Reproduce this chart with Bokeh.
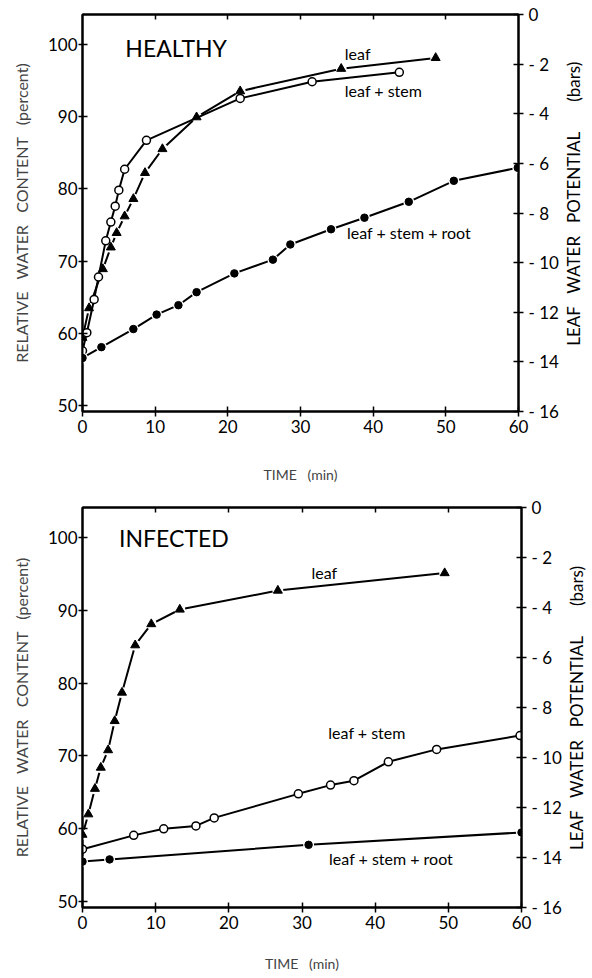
import math
from bokeh.plotting import figure
from bokeh.models import Range1d, LinearAxis, FixedTicker, Label
from bokeh.layouts import column
from bokeh.embed import file_html
from bokeh.resources import INLINE

FONT = "Lato"
NB = "\u00a0"

# ---------------- data (time in min, relative water content in percent) -------------
h_leaf_t = [0, 0.9, 2.8, 3.9, 4.7, 5.8, 7.0, 8.6, 11.0, 15.7, 21.7, 35.6, 48.6]
h_leaf_rwc = [59.4, 63.5, 68.9, 71.9, 73.9, 76.2, 78.6, 82.2, 85.5, 89.9, 93.5, 96.6, 98.1]
h_ls_t = [0, 0.6, 1.6, 2.2, 3.2, 3.9, 4.5, 5.0, 5.8, 8.8, 21.7, 31.6, 43.6]
h_ls_rwc = [57.6, 60.1, 64.7, 67.8, 72.8, 75.4, 77.6, 79.8, 82.7, 86.7, 92.5, 94.8, 96.1]
h_lsr_t = [0, 2.6, 7.0, 10.2, 13.2, 15.7, 20.9, 26.2, 28.6, 34.2, 38.8, 44.9, 51.1, 59.9]
h_lsr_rwc = [56.6, 58.1, 60.6, 62.6, 63.9, 65.7, 68.3, 70.2, 72.3, 74.4, 76.0, 78.2, 81.1, 82.9]

i_leaf_t = [0, 0.8, 1.7, 2.5, 3.5, 4.4, 5.4, 7.2, 9.4, 13.3, 26.7, 49.5]
i_leaf_rwc = [59.2, 62.0, 65.5, 68.4, 70.8, 74.8, 78.7, 85.2, 88.1, 90.1, 92.7, 95.1]
i_ls_t = [0, 7.0, 11.1, 15.5, 18.0, 29.5, 33.9, 37.1, 41.8, 48.4, 59.8]
i_ls_rwc = [57.2, 59.1, 60.0, 60.4, 61.5, 64.8, 66.0, 66.6, 69.2, 70.9, 72.8]
i_lsr_t = [0, 3.7, 30.9, 60.0]
i_lsr_rwc = [55.5, 55.8, 57.8, 59.5]

time_ticks = [0, 10, 20, 30, 40, 50, 60]
rwc_ticks = [50, 60, 70, 80, 90, 100]
wp_ticks = [-16, -14, -12, -10, -8, -6, -4, -2, 0]
series_names = ["leaf", "leaf + stem", "leaf + stem + root"]

h_label_pos = [(36.1, 98.7), (36.1, 93.6), (36.4, 74.0)]
i_label_pos = [(31.3, 95.2), (33.6, 73.2), (33.7, 55.9)]

LEFT_TITLE = "RELATIVE" + NB * 3 + "WATER" + NB * 3 + "CONTENT" + NB * 3 + "(percent)"
RIGHT_TITLE = "LEAF" + NB * 3 + "WATER" + NB * 3 + "POTENTIAL" + NB * 7 + "(bars)"
TIME_TITLE = "TIME" + NB * 3 + "(min)"


def make_panel(title, title_pos, leaf, ls, lsr, label_pos, frame_w, frame_h,
               b_top, b_bottom, b_right, time_standoff, right_title_start):
    p = figure(frame_width=frame_w, frame_height=frame_h,
               x_range=Range1d(0, 60), y_range=Range1d(49.2, 104.1),
               output_backend="svg", toolbar_location=None,
               min_border_left=82, min_border_right=b_right,
               min_border_top=b_top, min_border_bottom=b_bottom,
               background_fill_color="white", border_fill_color="white")
    p.extra_y_ranges = {"wp": Range1d(-16, 0)}
    p.xgrid.visible = False
    p.ygrid.visible = False
    p.outline_line_color = "black"
    p.outline_line_width = 2

    xa = p.xaxis[0]
    xa.ticker = FixedTicker(ticks=time_ticks)
    xa.minor_tick_line_color = None
    xa.major_tick_in = 5
    xa.major_tick_out = 5
    xa.major_tick_line_width = 1.5
    xa.axis_line_width = 2
    xa.major_label_text_font = FONT
    xa.major_label_text_font_size = "17px"
    xa.major_label_text_color = "black"
    xa.major_label_standoff = 3
    xa.axis_label = TIME_TITLE
    xa.axis_label_text_font = FONT
    xa.axis_label_text_font_size = "14px"
    xa.axis_label_text_font_style = "normal"
    xa.axis_label_standoff = time_standoff

    ya = p.yaxis[0]
    ya.ticker = FixedTicker(ticks=rwc_ticks)
    ya.minor_tick_line_color = None
    ya.major_tick_in = 5
    ya.major_tick_out = 4
    ya.major_tick_line_width = 1.5
    ya.axis_line_width = 2
    ya.major_label_text_font = FONT
    ya.major_label_text_font_size = "17px"
    ya.major_label_text_color = "black"
    ya.major_label_standoff = 1
    ya.axis_label = LEFT_TITLE
    ya.axis_label_text_font = FONT
    ya.axis_label_text_font_size = "16px"
    ya.axis_label_text_font_style = "normal"
    ya.axis_label_standoff = 14

    ra = LinearAxis(y_range_name="wp", ticker=FixedTicker(ticks=wp_ticks))
    ra.major_label_overrides = {t: ("0" if t == 0 else "-" + NB + str(-t)) for t in wp_ticks}
    ra.minor_tick_line_color = None
    ra.major_tick_in = 5
    ra.major_tick_out = 5
    ra.major_tick_line_width = 1.5
    ra.axis_line_width = 2
    ra.major_label_text_font = FONT
    ra.major_label_text_font_size = "17px"
    ra.major_label_text_color = "black"
    ra.major_label_standoff = 5
    p.add_layout(ra, "right")

    # right-hand axis title (reads bottom to top), drawn as a single rotated tick label
    rt = LinearAxis(y_range_name="wp", ticker=FixedTicker(ticks=[right_title_start]))
    rt.major_label_overrides = {right_title_start: RIGHT_TITLE}
    rt.major_label_orientation = math.pi / 2
    rt.minor_tick_line_color = None
    rt.major_tick_in = 0
    rt.major_tick_out = 0
    rt.axis_line_color = None
    rt.major_label_text_font = FONT
    rt.major_label_text_font_size = "17px"
    rt.major_label_text_color = "black"
    rt.major_label_standoff = 12
    p.add_layout(rt, "right")

    ta = LinearAxis(ticker=FixedTicker(ticks=time_ticks[1:-1]))
    ta.minor_tick_line_color = None
    ta.major_tick_in = 5
    ta.major_tick_out = 0
    ta.major_tick_line_width = 1.5
    ta.axis_line_width = 2
    ta.major_label_text_color = None
    ta.major_label_text_font_size = "6px"
    ta.major_label_standoff = 0
    p.add_layout(ta, "above")

    lw = 2
    # leaf (filled triangles)
    p.line(leaf[0], leaf[1], line_color="black", line_width=lw)
    p.scatter(leaf[0], leaf[1], marker="circle", size=11, fill_color="white", line_color=None)
    p.scatter(leaf[0], leaf[1], marker="triangle", size=9, fill_color="black", line_color="black")
    # leaf + stem (open circles)
    p.line(ls[0], ls[1], line_color="black", line_width=lw)
    p.scatter(ls[0], ls[1], marker="circle", size=8, fill_color="white", line_color="black",
              line_width=1.5)
    # leaf + stem + root (filled circles)
    p.line(lsr[0], lsr[1], line_color="black", line_width=lw)
    p.scatter(lsr[0], lsr[1], marker="circle", size=11, fill_color="white", line_color=None)
    p.scatter(lsr[0], lsr[1], marker="circle", size=7.5, fill_color="black", line_color="black")

    for name, (lx, ly) in zip(series_names, label_pos):
        p.add_layout(Label(x=lx, y=ly, text=name, text_font=FONT, text_font_size="16px",
                           text_baseline="middle", text_align="left", text_color="black"))
    p.add_layout(Label(x=title_pos[0], y=title_pos[1], text=title, text_font=FONT,
                       text_font_size="23px", text_baseline="middle", text_align="left",
                       text_color="black"))
    return p


p1 = make_panel("HEALTHY", (5.9, 99.4), (h_leaf_t, h_leaf_rwc), (h_ls_t, h_ls_rwc),
                (h_lsr_t, h_lsr_rwc), h_label_pos, 436, 397, 14, 74, 72, 30, -13.35)
p2 = make_panel("INFECTED", (5.0, 99.9), (i_leaf_t, i_leaf_rwc), (i_ls_t, i_ls_rwc),
                (i_lsr_t, i_lsr_rwc), i_label_pos, 439, 400, 22, 68, 69, 23, -13.7)

layout = column(p1, p2)
open("out.html", "w").write(file_html(layout, INLINE))
